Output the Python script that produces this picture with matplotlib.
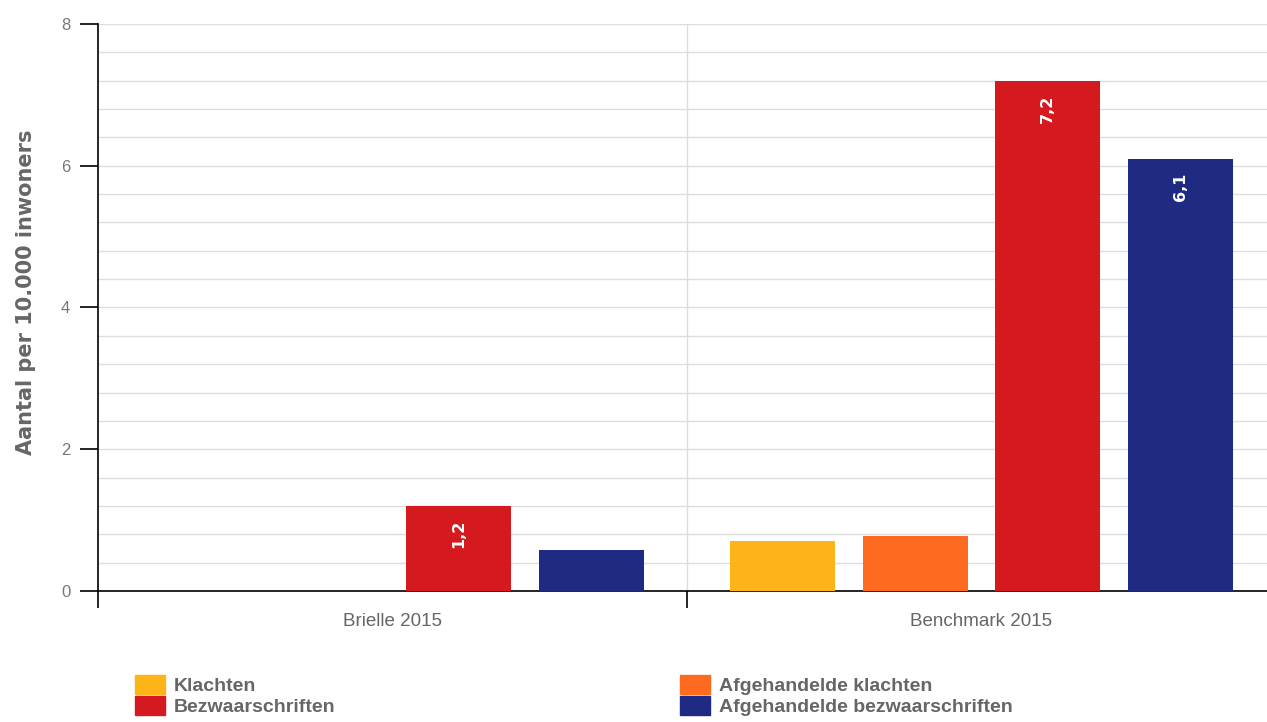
import numpy as np
import matplotlib.pyplot as plt
from matplotlib.patches import Patch

plt.rcParams['font.family'] = ['Liberation Sans', 'DejaVu Sans']

categories = ['Brielle 2015', 'Benchmark 2015']
series = ['Klachten', 'Afgehandelde klachten', 'Bezwaarschriften', 'Afgehandelde bezwaarschriften']
klachten = [0, 0.7]
afg_klachten = [0, 0.78]
bezwaar = [1.2, 7.2]
afg_bezwaar = [0.58, 6.1]
labels = {2: ['1,2', '7,2'], 3: [None, '6,1']}
colors = ['#fdb418', '#fe6a1f', '#d4191f', '#1f2a82']

values = [klachten, afg_klachten, bezwaar, afg_bezwaar]

fig = plt.figure(figsize=(12.67, 7.22), dpi=100)
ax = fig.add_axes([98 / 1267, 1 - 591 / 722, 1178 / 1267, (591 - 24) / 722])

x = np.arange(len(categories))
step = 0.225
width = 0.178
for i, vals in enumerate(values):
    pos = x + (i - 1.5) * step
    ax.bar(pos, vals, width=width, color=colors[i], zorder=3)
    if i in labels:
        for p, v, t in zip(pos, vals, labels[i]):
            if t:
                ax.text(p, v - 0.2, t, rotation=90, ha='center', va='top',
                        color='white', fontsize=11.5, fontweight='bold',
                        family='DejaVu Sans', zorder=4)

ax.set_xlim(-0.5, 1.5)
ax.set_ylim(0, 8)
ax.set_yticks([0, 2, 4, 6, 8])
ax.set_yticks(np.arange(0, 8.01, 0.4), minor=True)
ax.grid(axis='y', which='both', color='#dddddd', linewidth=1, zorder=0)
ax.axvline(0.5, color='#dddddd', linewidth=1, zorder=0)

ax.set_xticks([-0.5, 0.5])
ax.set_xticklabels([])
ax.set_xticks(x, minor=True)
ax.set_xticklabels(categories, minor=True)
ax.tick_params(axis='x', which='major', length=12.5, width=1.2, color='black')
ax.tick_params(axis='x', which='minor', length=0, pad=16, labelsize=13.5, labelcolor='#666666')
ax.tick_params(axis='y', which='major', length=13, width=1.2, color='black', labelsize=12,
               labelcolor='#777777', pad=7)
ax.tick_params(axis='y', which='minor', length=0)

for s in ['top', 'right']:
    ax.spines[s].set_visible(False)
ax.spines['left'].set_linewidth(1.2)
ax.spines['bottom'].set_linewidth(1.2)

ax.set_ylabel('Aantal per 10.000 inwoners', fontsize=15, fontweight='bold',
              color='#666666', family='DejaVu Sans')
ax.yaxis.set_label_coords(-0.053, 0.527)

handles = [Patch(color=c, label=s) for c, s in zip(colors, series)]
legend_kw = dict(loc='upper left', ncol=1, frameon=False, borderpad=0, borderaxespad=0,
                 handlelength=1.55, handleheight=1.1, handletextpad=0.45, labelspacing=0.05,
                 prop={'weight': 'bold', 'size': 14}, labelcolor='#666666')
leg1 = fig.legend([handles[0], handles[2]], [series[0], series[2]],
                  bbox_to_anchor=(135 / 1267, 1 - 675 / 722), **legend_kw)
leg2 = fig.legend([handles[1], handles[3]], [series[1], series[3]],
                  bbox_to_anchor=(680 / 1267, 1 - 675 / 722), **legend_kw)

fig.savefig('out.png', dpi=100)
